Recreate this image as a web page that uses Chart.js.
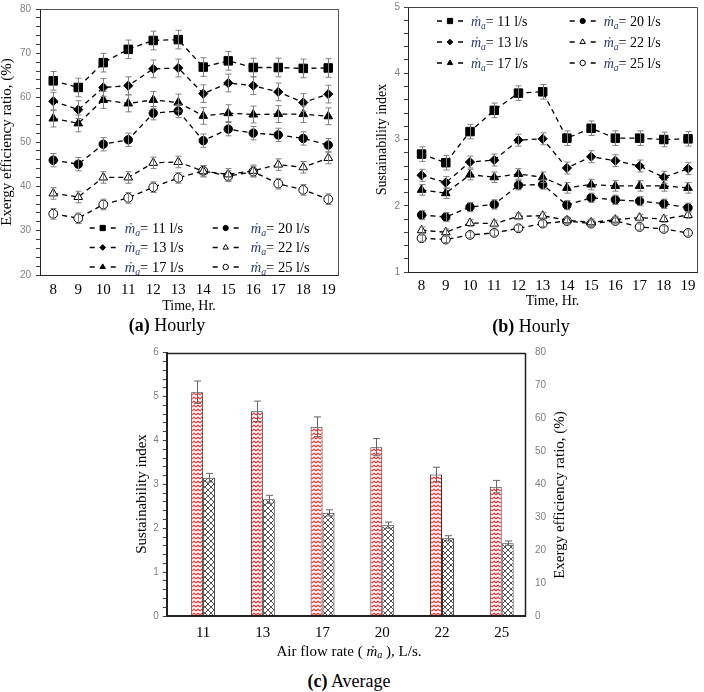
<!DOCTYPE html>
<html><head><meta charset="utf-8">
<script src="https://cdn.jsdelivr.net/npm/chart.js@4/dist/chart.umd.min.js"></script>
<style>
html,body{margin:0;padding:0;background:#fff}
body{width:704px;height:692px;position:relative;overflow:hidden}
canvas{position:absolute}
.cap{position:absolute;font-family:"Liberation Serif","Times New Roman",serif;font-size:18px;line-height:20px;color:#000;white-space:nowrap;transform:translateX(-50%)}
.axl{position:absolute;background:#222;z-index:5}
</style></head><body>
<canvas id="ca" style="left:0;top:0" width="352" height="317"></canvas>
<canvas id="cb" style="left:355px;top:0" width="349" height="317"></canvas>
<canvas id="cc" style="left:100px;top:340px" width="500" height="322"></canvas>
<div class="cap" style="left:167px;top:315px"><b>(a)</b> Hourly</div>
<div class="cap" style="left:531px;top:316px"><b>(b)</b> Hourly</div>
<div class="cap" style="left:349px;top:671px"><b>(c)</b> Average</div>
<div class="axl" id="axL" style="left:166px;top:352px;width:2px;height:265px"></div>
<div class="axl" id="axB" style="left:166px;top:615px;width:360px;height:2px"></div>
<script>
const SERIF = '"Liberation Serif","Times New Roman",serif';
const SANS = '"Liberation Sans",Arial,sans-serif';

// ---- data ----
const hours = ['8','9','10','11','12','13','14','15','16','17','18','19'];
const flowLabels = ['11','13','17','20','22','25'];

const exergy11 = [63.8, 62.3, 67.9, 70.9, 72.9, 73.1, 66.9, 68.3, 66.8, 66.8, 66.6, 66.7];
const exergy13 = [59.2, 57.3, 62.3, 62.7, 66.5, 66.7, 60.9, 63.3, 62.7, 61.3, 58.9, 60.8];
const exergy17 = [55.3, 54.2, 59.5, 58.7, 59.5, 58.9, 55.9, 56.5, 56.2, 56.3, 56.3, 55.8];
const exergy20 = [45.9, 45.0, 49.5, 50.5, 56.5, 57.0, 50.3, 52.9, 52.0, 51.6, 50.8, 49.3];
const exergy22 = [38.4, 37.6, 42.0, 42.0, 45.3, 45.5, 43.4, 42.7, 43.5, 44.9, 44.3, 46.4];
const exergy25 = [33.8, 32.8, 35.9, 37.4, 39.8, 41.9, 43.5, 42.3, 43.3, 40.6, 39.2, 37.1];
const exergyErrors = [2.1, 2.0, 1.9, 1.5, 1.3, 1.2];

const si11 = [2.78, 2.65, 3.12, 3.44, 3.70, 3.72, 3.02, 3.17, 3.02, 3.02, 3.00, 3.01];
const si13 = [2.46, 2.35, 2.66, 2.69, 2.99, 3.01, 2.57, 2.74, 2.68, 2.60, 2.43, 2.56];
const si17 = [2.24, 2.19, 2.47, 2.43, 2.48, 2.43, 2.27, 2.32, 2.30, 2.30, 2.30, 2.27];
const si20 = [1.86, 1.83, 1.98, 2.02, 2.31, 2.32, 2.01, 2.12, 2.09, 2.07, 2.03, 1.97];
const si22 = [1.63, 1.60, 1.74, 1.73, 1.84, 1.85, 1.78, 1.75, 1.79, 1.82, 1.80, 1.86];
const si25 = [1.51, 1.49, 1.56, 1.59, 1.66, 1.73, 1.77, 1.73, 1.77, 1.68, 1.65, 1.59];
const siErrors = [0.11, 0.09, 0.08, 0.07, 0.05, 0.045];

const avgExergy = [68.0, 62.2, 57.5, 51.3, 43.0, 39.3];
const avgExergyErr = [3.4, 3.1, 3.0, 2.6, 2.2, 1.9];
const avgSI = [3.15, 2.66, 2.35, 2.07, 1.77, 1.66];
const avgSIErr = [0.10, 0.09, 0.07, 0.07, 0.06, 0.05];

const exergyTickLabels = [20, 30, 40, 50, 60, 70, 80];
const siTickLabels = [1, 2, 3, 4, 5];
const avgSITickLabels = [0, 1, 2, 3, 4, 5, 6];
const avgExergyTickLabels = [0, 10, 20, 30, 40, 50, 60, 70, 80];

// ---- styles ----
const markerStyle = [
  {style:'rect', r:6, fill:'#000'},
  {style:'rectRot', r:4.6, fill:'#000'},
  {style:'triangle', r:5, fill:'#000'},
  {style:'circle', r:4.2, fill:'#000'},
  {style:'triangle', r:5, fill:'#fff'},
  {style:'circle', r:4.4, fill:'#fff'}
];

function valOf(d){ return (d && typeof d === 'object') ? d.y : d; }

const errorBarPlugin = {
  id:'errorBars',
  afterDatasetsDraw(chart){
    const ctx = chart.ctx;
    chart.data.datasets.forEach((ds, i) => {
      if (!ds.errors) return;
      const meta = chart.getDatasetMeta(i);
      const ys = chart.scales[meta.yAxisID];
      ctx.save();
      ctx.strokeStyle = ds.errorColor || '#808080';
      ctx.lineWidth = 1;
      const cw = ds.capWidth || 3;
      meta.data.forEach((el, j) => {
        const v = valOf(ds.data[j]);
        const e = ds.errors[j];
        const x = Math.round(el.x) + 0.5;
        const y1 = ys.getPixelForValue(v + e), y2 = ys.getPixelForValue(v - e);
        ctx.beginPath();
        ctx.moveTo(x, y1); ctx.lineTo(x, y2);
        ctx.moveTo(x - cw, y1); ctx.lineTo(x + cw, y1);
        ctx.moveTo(x - cw, y2); ctx.lineTo(x + cw, y2);
        ctx.stroke();
      });
      ctx.restore();
    });
  }
};

const framePlugin = {
  id:'frame',
  beforeDatasetsDraw(chart, args, opts){
    const a = chart.chartArea, ctx = chart.ctx;
    const L = Math.round(a.left) + 0.5, T = Math.round(a.top) + 0.5;
    const R = Math.round(a.right) + 0.5, B = Math.round(a.bottom) + 0.5;
    ctx.save();
    ctx.strokeStyle = opts.color || '#333';
    ctx.lineWidth = opts.width || 1;
    ctx.beginPath();
    ctx.moveTo(L, T); ctx.lineTo(R, T); ctx.lineTo(R, B);
    ctx.stroke();
    ctx.restore();
  }
};

// places the bar chart's left/bottom axis strokes exactly on its chart area edges
const axisLinesPlugin = {
  id:'axisLines',
  afterDraw(chart){
    const a = chart.chartArea, ctx = chart.ctx;
    const L = Math.round(a.left), B = Math.round(a.bottom);
    ctx.save();
    ctx.strokeStyle = '#222'; ctx.lineWidth = 2;
    ctx.beginPath();
    ctx.moveTo(L, Math.round(a.top)); ctx.lineTo(L, B + 1);
    ctx.moveTo(L - 1, B); ctx.lineTo(Math.round(a.right) + 1, B);
    ctx.stroke();
    ctx.restore();
    const cv = chart.canvas;
    const ox = cv.offsetLeft, oy = cv.offsetTop;
    const l = document.getElementById('axL'), b = document.getElementById('axB');
    l.style.left = (ox + L - 1) + 'px'; l.style.top = (oy + Math.round(a.top)) + 'px'; l.style.height = (B + 1 - Math.round(a.top)) + 'px';
    b.style.left = (ox + L - 1) + 'px'; b.style.top = (oy + B - 1) + 'px'; b.style.width = (Math.round(a.right) + 2 - L) + 'px';
  }
};

function drawFlowLegendItem(ctx, x, y, i, fontSize, textGap){
  const m = markerStyle[i];
  ctx.save();
  ctx.strokeStyle = '#000'; ctx.lineWidth = 1.6;
  ctx.beginPath();
  ctx.moveTo(x - 13, y); ctx.lineTo(x - 8, y);
  ctx.moveTo(x + 8, y); ctx.lineTo(x + 13, y);
  ctx.stroke();
  ctx.fillStyle = m.fill; ctx.strokeStyle = '#000'; ctx.lineWidth = 1;
  Chart.helpers.drawPoint(ctx, {pointStyle:m.style, radius:m.r * 0.62, borderWidth:1, rotation:0}, x, y);
  let tx = x + textGap;
  ctx.textAlign = 'left'; ctx.textBaseline = 'alphabetic';
  const base = y + fontSize * 0.34;
  ctx.fillStyle = '#2a3a66';
  ctx.font = 'italic ' + fontSize + 'px ' + SERIF;
  ctx.fillText('ṁ', tx, base); tx += ctx.measureText('ṁ').width;
  ctx.font = 'italic ' + (fontSize * 0.68).toFixed(1) + 'px ' + SERIF;
  ctx.fillText('a', tx, base + fontSize * 0.2); tx += ctx.measureText('a').width;
  ctx.fillStyle = '#000';
  ctx.font = fontSize + 'px ' + SERIF;
  ctx.fillText('= ' + flowLabels[i] + ' l/s', tx, base);
  ctx.restore();
}

function legendPlugin(anchor, colX, rowY, textGaps, fontSize){
  return {
    id:'flowLegend',
    afterDraw(chart){
      const a = chart.chartArea;
      const y0 = anchor === 'bottom' ? a.bottom : a.top;
      for (let i = 0; i < 6; i++){
        const col = Math.floor(i / 3), row = i % 3;
        drawFlowLegendItem(chart.ctx, a.left + colX[col], y0 + rowY[row], i, fontSize, textGaps[col]);
      }
    }
  };
}

function yAxisLinear(min, max, minor, majors, width, titleText, titleSize, titlePad, labelPad, axisW){
  return {
    type:'linear', position:'left', min:min, max:max, offset:false,
    border:{display:true, color:'#222', width:axisW || 1},
    grid:{display:true, drawOnChartArea:false, drawTicks:true, tickLength:4, color:'#444', offset:false},
    ticks:{autoSkip:false, padding:labelPad, color:'#808080', font:{family:SANS, size:10},
      callback:(v) => majors.some(m => Math.abs(m - v) < 1e-6) ? String(Math.round(v)) : ''},
    afterBuildTicks:(s) => {
      const t = [];
      for (let k = 0; ; k++){ const v = +(min + k * minor).toFixed(4); if (v > max + 1e-9) break; t.push({value:v}); }
      s.ticks = t;
    },
    afterFit:(s) => { s.width = width; s.paddingTop = 0; s.paddingBottom = 0; s.paddingLeft = 0; s.paddingRight = 0; },
    title:{display:!!titleText, text:titleText || '', color:'#000', font:{family:SERIF, size:titleSize, lineHeight:1}, padding:{top:titlePad, bottom:0}}
  };
}

function xAxisLinear(min, max, labels, height, labelPad, titleText, titleSize, titlePad, axisW){
  return {
    type:'linear', position:'bottom', min:min, max:max, offset:false,
    border:{display:true, color:'#222', width:axisW || 1},
    grid:{display:false, drawTicks:false, offset:false},
    ticks:{autoSkip:false, maxRotation:0, padding:labelPad, color:'#000', font:{family:SERIF, size:15},
      callback:(v) => labels[v] !== undefined ? labels[v] : ''},
    afterBuildTicks:(s) => { s.ticks = labels.map((_, i) => ({value:i})); },
    afterFit:(s) => { s.height = height; s.paddingTop = 0; s.paddingBottom = 0; s.paddingLeft = 0; s.paddingRight = 0; },
    title:{display:!!titleText, text:titleText || '', color:'#000', font:{family:SERIF, size:titleSize, lineHeight:1}, padding:{top:0, bottom:titlePad}}
  };
}

function lineDatasets(seriesList, errs){
  return seriesList.map((arr, i) => ({
    label:'ṁa= ' + flowLabels[i] + ' l/s',
    data: arr.map((y, k) => ({x:k, y:y})),
    borderColor:'#000', borderWidth:1.3, borderDash:[5,4],
    pointStyle: markerStyle[i].style, pointRadius: markerStyle[i].r,
    pointBackgroundColor: markerStyle[i].fill, pointBorderColor:'#000', pointBorderWidth:1,
    tension:0, fill:false,
    errors: arr.map(() => errs[i]), capWidth:3, errorColor:'#808080'
  }));
}

const baseOpts = {animation:false, responsive:false, maintainAspectRatio:false, devicePixelRatio:1};

// ---- (a) exergy hourly ----
new Chart(document.getElementById('ca'), {
  type:'line',
  data:{ datasets: lineDatasets([exergy11, exergy13, exergy17, exergy20, exergy22, exergy25], exergyErrors) },
  options:Object.assign({}, baseOpts, {
    layout:{padding:{top:9, right:14, left:0, bottom:0}},
    plugins:{legend:{display:false}, tooltip:{enabled:false}, frame:{color:'#555'}},
    scales:{
      x: xAxisLinear(-0.53, 11.39, hours, 42, 6, 'Time, Hr.', 14, 3.3),
      y: yAxisLinear(20, 80, 2, exergyTickLabels, 40, 'Exergy efficiency ratio, (%)', 15, 0, 5)
    }
  }),
  plugins:[framePlugin, errorBarPlugin, legendPlugin('bottom', [62.7, 185.7], [-47, -27.5, -8], [22, 25], 14.5)]
});

// ---- (b) sustainability hourly ----
new Chart(document.getElementById('cb'), {
  type:'line',
  data:{ datasets: lineDatasets([si11, si13, si17, si20, si22, si25], siErrors) },
  options:Object.assign({}, baseOpts, {
    layout:{padding:{top:3, right:6, left:0, bottom:0}},
    plugins:{legend:{display:false}, tooltip:{enabled:false}, frame:{color:'#444'}},
    scales:{
      x: xAxisLinear(-0.56, 11.37, hours, 45, 5, 'Time, Hr.', 14, 8.3),
      y: yAxisLinear(1, 5, 0.2, siTickLabels, 53, 'Sustainability index', 14, 20, 4)
    }
  }),
  plugins:[framePlugin, errorBarPlugin, legendPlugin('top', [42, 174.7], [14, 35, 56], [21, 21], 14)]
});

// ---- (c) averages ----
function zigzagPattern(){
  const c = document.createElement('canvas'); c.width = 4; c.height = 4;
  const g = c.getContext('2d');
  g.fillStyle = '#fff'; g.fillRect(0, 0, 4, 4);
  g.strokeStyle = '#ff3030'; g.lineWidth = 1.2;
  g.beginPath(); g.moveTo(0, 3); g.lineTo(2, 1); g.lineTo(4, 3); g.stroke();
  return g.createPattern(c, 'repeat');
}
function crossPattern(){
  const c = document.createElement('canvas'); c.width = 6; c.height = 6;
  const g = c.getContext('2d');
  g.fillStyle = '#fff'; g.fillRect(0, 0, 6, 6);
  g.strokeStyle = '#222'; g.lineWidth = 0.8;
  g.beginPath();
  g.moveTo(0, 0); g.lineTo(6, 6);
  g.moveTo(0, 6); g.lineTo(6, 0);
  g.stroke();
  return g.createPattern(c, 'repeat');
}

function drawMdotText(ctx, parts, cx, y, size){
  let total = 0;
  const fonts = parts.map(p => (p.italic ? 'italic ' : '') + (p.sub ? (size * 0.68).toFixed(1) : size) + 'px ' + SERIF);
  parts.forEach((p, i) => { ctx.font = fonts[i]; total += ctx.measureText(p.t).width; });
  let x = cx - total / 2;
  parts.forEach((p, i) => {
    ctx.font = fonts[i];
    ctx.fillText(p.t, x, y + (p.sub ? size * 0.22 : 0));
    x += ctx.measureText(p.t).width;
  });
}

const avgTextPlugin = {
  id:'avgText',
  afterDraw(chart){
    const ctx = chart.ctx;
    ctx.save();
    ctx.fillStyle = '#000'; ctx.textAlign = 'left'; ctx.textBaseline = 'middle';
    drawMdotText(ctx, [{t:'Air flow rate ( '}, {t:'ṁ', italic:true}, {t:'a', italic:true, sub:true}, {t:' ), L/s.'}], 249, 311.7, 15);
    ctx.save(); ctx.translate(41.7, 154); ctx.rotate(-Math.PI / 2);
    ctx.textAlign = 'center'; ctx.font = '15px ' + SERIF; ctx.fillText('Sustainability index', 0, 0);
    ctx.restore();
    ctx.save(); ctx.translate(460, 155); ctx.rotate(-Math.PI / 2);
    ctx.textAlign = 'center'; ctx.font = '15px ' + SERIF; ctx.fillText('Exergy efficiency ratio, (%)', 0, 0);
    ctx.restore();
    ctx.restore();
  }
};

new Chart(document.getElementById('cc'), {
  type:'bar',
  data:{
    datasets:[
      { label:'Exergy efficiency ratio', data: avgExergy.map((y, i) => ({x:i, y:y})), yAxisID:'y2',
        backgroundColor: zigzagPattern(), borderColor:'#333', borderWidth:1,
        categoryPercentage:0.4, barPercentage:1.0,
        errors: avgExergyErr, capWidth:3.5, errorColor:'#666' },
      { label:'Sustainability index', data: avgSI.map((y, i) => ({x:i, y:y})), yAxisID:'y',
        backgroundColor: crossPattern(), borderColor:'#333', borderWidth:1,
        categoryPercentage:0.4, barPercentage:1.0,
        errors: avgSIErr, capWidth:3.5, errorColor:'#666' }
    ]
  },
  options:Object.assign({}, baseOpts, {
    layout:{padding:{top:12.7, right:0, left:0, bottom:0}},
    plugins:{legend:{display:false}, tooltip:{enabled:false}, frame:{color:'#222', width:1.5}},
    scales:{
      x: xAxisLinear(-0.61, 5.39, flowLabels, 46, 7.7, '', 15, 0, 2),
      y: yAxisLinear(0, 6, 0.2, avgSITickLabels, 66.7, '', 15, 0, 4, 2),
      y2: {
        type:'linear', position:'right', min:0, max:80, offset:false,
        border:{display:false},
        grid:{display:false, drawTicks:false},
        ticks:{autoSkip:false, padding:10, color:'#808080', font:{family:SANS, size:10}},
        afterBuildTicks:(s) => { s.ticks = avgExergyTickLabels.map(v => ({value:v})); },
        afterFit:(s) => { s.width = 75; s.paddingTop = 0; s.paddingBottom = 0; s.paddingLeft = 0; s.paddingRight = 0; }
      }
    }
  }),
  plugins:[framePlugin, errorBarPlugin, avgTextPlugin, axisLinesPlugin]
});
</script>
</body></html>
